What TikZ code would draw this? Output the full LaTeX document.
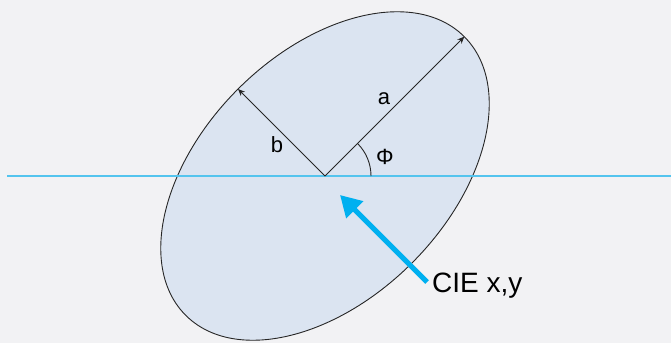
\documentclass[tikz,border=0pt]{standalone}
\usepackage{fontspec}
\setmainfont{Liberation Sans}
\usetikzlibrary{arrows.meta}
\definecolor{Fond}{RGB}{242,242,244}
\definecolor{BleuEllipse}{RGB}{219,228,241}
\definecolor{BleuAxe}{RGB}{84,196,238}
\definecolor{BleuCIE}{RGB}{0,176,240}
\tikzset{contour/.style={draw=black!85, fill=BleuEllipse, line width=0.9pt}}
\tikzset{axe/.style={draw=BleuAxe, line width=1.8pt}}
\tikzset{rayon/.style={-{Stealth[length=7pt, width=6pt]}, draw=black!85, line width=0.9pt}}
\tikzset{etiq/.style={font=\fontsize{22}{24}\selectfont, inner sep=0pt}}
\tikzset{flcie/.style={-{Triangle[length=21pt, width=23pt]}, draw=BleuCIE, line width=5pt}}

\begin{document}
\begin{tikzpicture}[x=1pt, y=1pt]
\fill[Fond] (0,0) rectangle (671,343);
\useasboundingbox (0,0) rectangle (671,343);
\coordinate (centre) at (325,167);
\coordinate (gauche) at (7,167);
\coordinate (droite) at (671,167);
\coordinate (ta) at ([shift={(45:197pt)}]centre);
\coordinate (tb) at ([shift={(135:123pt)}]centre);
\draw[contour, rotate around={45:(centre)}] (centre) ellipse [x radius=197, y radius=123];
\draw[axe] (gauche) -- (droite);
\draw[rayon] (centre) -- (ta);
\draw[rayon] (centre) -- (tb);
\draw[draw=black!85, line width=0.9pt] ([shift={(0:46pt)}]centre) arc[start angle=0, end angle=45, radius=46pt];
\node[etiq] (la) at (384,244) {a};
\node[etiq] (lb) at (277,198) {b};
\node[etiq] (lphi) at (385,186) {Φ};
% fleche vers le centre
\node[anchor=west, inner sep=0pt, font=\fontsize{28}{30}\selectfont] (cie) at (432,57) {CIE x,y};
\coordinate (queue) at (427,61);
\coordinate (pointe) at (340,148);
\draw[flcie] (queue) -- (pointe);
\end{tikzpicture}
\end{document}
